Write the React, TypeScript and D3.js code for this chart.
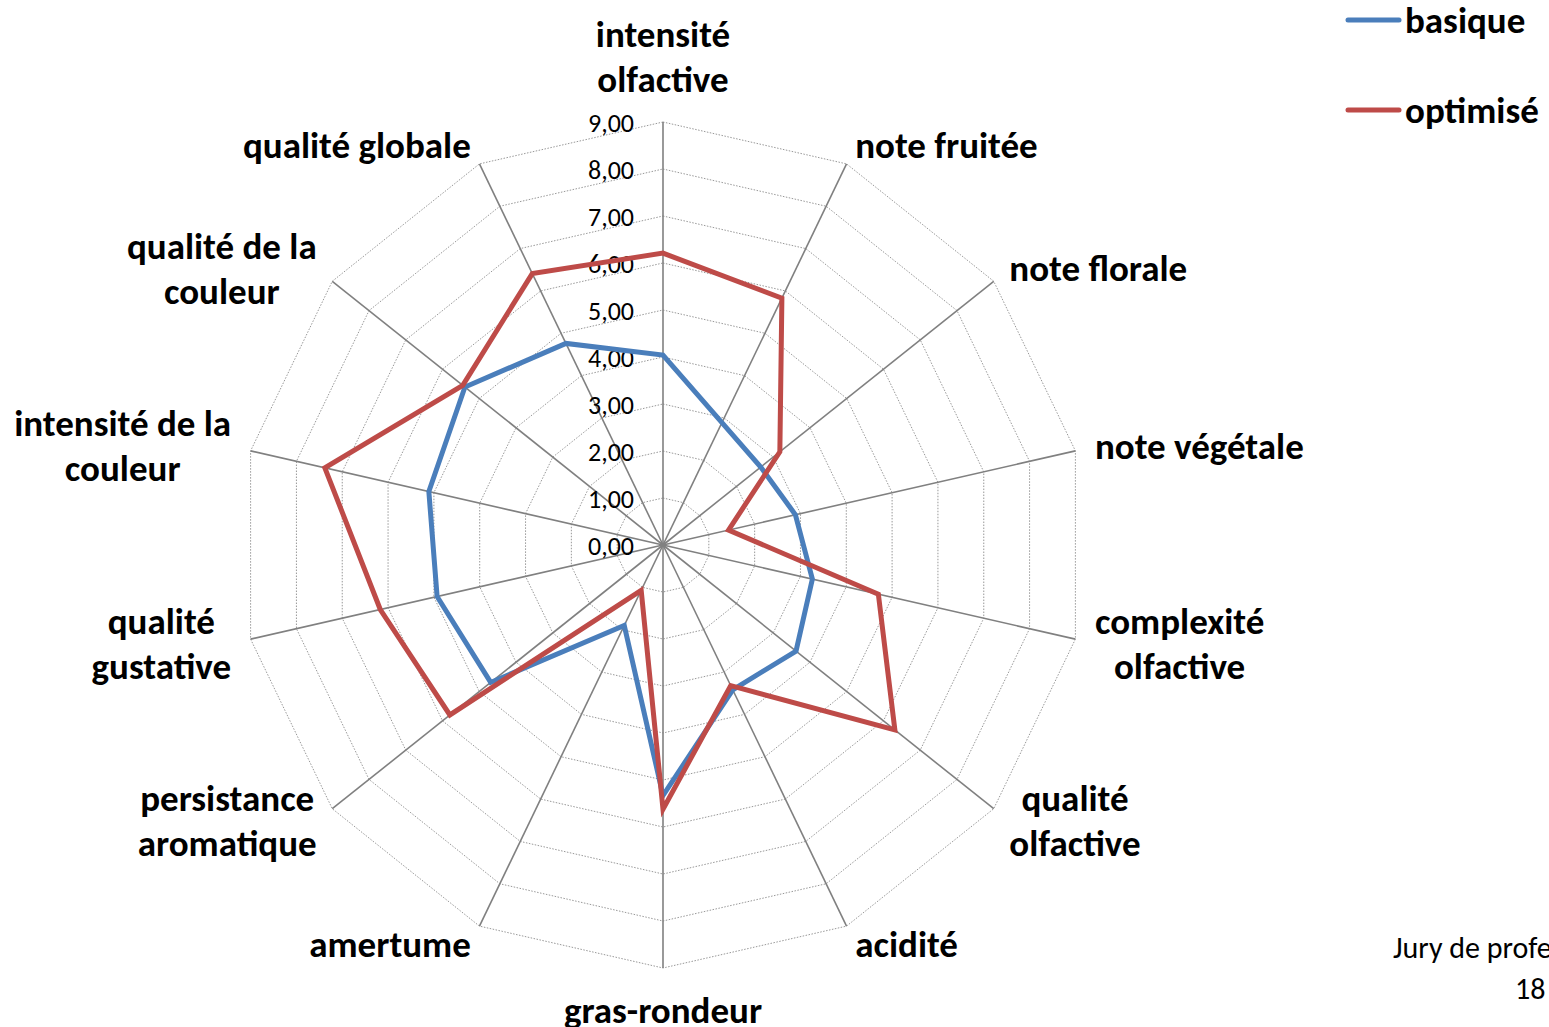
import React from "react";
import * as d3 from "d3";

const categories = [
  "intensité\nolfactive",
  "note fruitée",
  "note florale",
  "note végétale",
  "complexité\nolfactive",
  "qualité\nolfactive",
  "acidité",
  "gras-rondeur",
  "amertume",
  "persistance\naromatique",
  "qualité\ngustative",
  "intensité de la\ncouleur",
  "qualité de la\ncouleur",
  "qualité globale",
];

const basique = [4.04, 2.89, 2.66, 2.89, 3.26, 3.62, 3.42, 5.33, 1.9, 4.69, 4.93, 5.11, 5.39, 4.76];
const optimise = [6.21, 5.83, 3.18, 1.43, 4.7, 6.31, 3.32, 5.62, 1.07, 5.8, 6.17, 7.38, 5.45, 6.41];

const tickValues = [0, 1, 2, 3, 4, 5, 6, 7, 8, 9];
const seriesNames = ["basique", "optimisé"];
const seriesColors = ["#4A7EBB", "#BE4B48"];
const footerLines = ["Jury de professionnels", "18"];

const W = 1549;
const H = 1027;
const CX = 663;
const CY = 545;
const R = 423;
const FONT = "Carlito, Calibri, Lato, sans-serif";
const LABEL_SIZE = 37;
const LINE_H = 45;

export default function App() {
  const n = categories.length;
  const r = d3.scaleLinear().domain([0, 9]).range([0, R]);
  const ang = (i: number) => (i * 2 * Math.PI) / n;
  const fmt = (v: number) => d3.format(".2f")(v).replace(".", ",");

  const radial = d3
    .lineRadial<number>()
    .angle((_, i) => ang(i))
    .radius((d) => r(d))
    .curve(d3.curveLinearClosed);

  const allSeries = [basique, optimise];

  return (
    <div style={{ position: "absolute", left: 0, top: 0, width: W, height: H, overflow: "hidden", background: "#fff" }}>
      <svg width={W} height={H} style={{ display: "block" }} fontFamily={FONT}>
        <rect width={W} height={H} fill="#fff" />
        <g transform={`translate(${CX},${CY})`}>
          {tickValues.slice(1).map((t) => (
            <path
              key={"g" + t}
              d={radial(categories.map(() => t)) || ""}
              fill="none"
              stroke="#8c8c8c"
              strokeWidth={0.9}
              strokeDasharray="1.5,1.5"
            />
          ))}
          {categories.map((_, i) => {
            const a = ang(i);
            return (
              <line
                key={"s" + i}
                x1={0}
                y1={0}
                x2={r(9) * Math.sin(a)}
                y2={-r(9) * Math.cos(a)}
                stroke="#808080"
                strokeWidth={1.6}
              />
            );
          })}
          {tickValues.map((t) => (
            <text
              key={"t" + t}
              x={-29}
              y={-r(t) + 1}
              textAnchor="end"
              dominantBaseline="central"
              fontSize={26}
              fill="#000"
            >
              {fmt(t)}
            </text>
          ))}
          {allSeries.map((s, k) => (
            <path
              key={"p" + k}
              d={radial(s) || ""}
              fill="none"
              stroke={seriesColors[k]}
              strokeWidth={5}
              strokeLinejoin="miter"
            />
          ))}
          {categories.map((c, i) => {
            const a = ang(i);
            const s = Math.sin(a);
            const co = Math.cos(a);
            const ax = (R + 20) * s;
            const ay = -(R + 20) * co;
            const lines = c.split("\n");
            const blockH = lines.length * LINE_H;
            let anchor: "start" | "middle" | "end" = "middle";
            if (s > 0.05) anchor = "start";
            else if (s < -0.05) anchor = "end";
            let top: number;
            if (Math.abs(s) > 0.05) top = ay - blockH / 2;
            else if (co > 0) top = ay - blockH;
            else top = ay;
            return <LabelBlock key={"l" + i} lines={lines} x={ax} top={top} anchor={anchor} />;
          })}
        </g>
        {seriesNames.map((nm, k) => (
          <g key={"lg" + k} transform={`translate(0,${20 + k * 90})`}>
            <line x1={1348} x2={1399} y1={0} y2={0} stroke={seriesColors[k]} strokeWidth={5} strokeLinecap="round" />
            <text x={1405} y={0} dominantBaseline="central" fontSize={LABEL_SIZE} fontWeight="bold" fill="#000">
              {nm}
            </text>
          </g>
        ))}
        <text x={1393} y={958} fontSize={30} fill="#000">
          {footerLines[0]}
        </text>
        <text x={1515} y={999} fontSize={30} fill="#000">
          {footerLines[1]}
        </text>
      </svg>
    </div>
  );
}

function LabelBlock({ lines, x, top, anchor }: { lines: string[]; x: number; top: number; anchor: "start" | "middle" | "end" }) {
  const ref = React.useRef<SVGGElement>(null);
  const [offsets, setOffsets] = React.useState<number[] | null>(null);
  React.useLayoutEffect(() => {
    if (!ref.current) return;
    const texts = Array.from(ref.current.querySelectorAll("text")) as SVGTextElement[];
    const widths = texts.map((t) => t.getComputedTextLength());
    const maxW = Math.max(...widths);
    let left: number;
    if (anchor === "start") left = x;
    else if (anchor === "end") left = x - maxW;
    else left = x - maxW / 2;
    setOffsets(widths.map((w) => left + (maxW - w) / 2));
  }, [lines.join("|"), x, top, anchor]);
  return (
    <g ref={ref}>
      {lines.map((l, j) => (
        <text
          key={j}
          x={offsets ? offsets[j] : x}
          y={top + LINE_H * (j + 0.5)}
          dominantBaseline="central"
          fontSize={LABEL_SIZE}
          fontWeight="bold"
          fill="#000"
        >
          {l}
        </text>
      ))}
    </g>
  );
}
